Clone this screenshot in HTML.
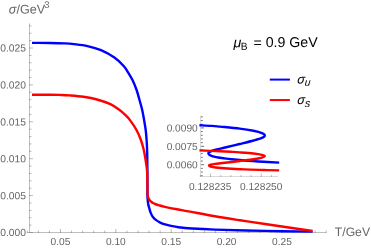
<!DOCTYPE html>
<html><head><meta charset="utf-8"><title>plot</title>
<style>html,body{margin:0;padding:0;background:#fff;}svg{display:block;will-change:transform;}</style></head>
<body><svg width="371" height="248" viewBox="0 0 371 248">
<rect width="371" height="248" fill="#fff"/>
<g stroke="#666" stroke-opacity="0.42" stroke-width="1" fill="none">
<path d="M29.5 23.5V232.5"/>
<path d="M27 232.5H326.4"/>
<path d="M27.29 233.0v-2.5M38.36 233.0v-2.5M49.43 233.0v-2.5M60.50 233.0v-4.0M71.57 233.0v-2.5M82.64 233.0v-2.5M93.71 233.0v-2.5M104.78 233.0v-2.5M115.85 233.0v-4.0M126.92 233.0v-2.5M137.99 233.0v-2.5M149.06 233.0v-2.5M160.13 233.0v-2.5M171.20 233.0v-4.0M182.27 233.0v-2.5M193.34 233.0v-2.5M204.41 233.0v-2.5M215.48 233.0v-2.5M226.55 233.0v-4.0M237.62 233.0v-2.5M248.69 233.0v-2.5M259.76 233.0v-2.5M270.83 233.0v-2.5M281.90 233.0v-4.0M292.97 233.0v-2.5M304.04 233.0v-2.5M315.11 233.0v-2.5M326.18 233.0v-2.5" stroke-opacity="0.45"/>
<path d="M29.0 232.50h4.0M29.0 225.12h2.5M29.0 217.74h2.5M29.0 210.36h2.5M29.0 202.98h2.5M29.0 195.60h4.0M29.0 188.22h2.5M29.0 180.84h2.5M29.0 173.46h2.5M29.0 166.08h2.5M29.0 158.70h4.0M29.0 151.32h2.5M29.0 143.94h2.5M29.0 136.56h2.5M29.0 129.18h2.5M29.0 121.80h4.0M29.0 114.42h2.5M29.0 107.04h2.5M29.0 99.66h2.5M29.0 92.28h2.5M29.0 84.90h4.0M29.0 77.52h2.5M29.0 70.14h2.5M29.0 62.76h2.5M29.0 55.38h2.5M29.0 48.00h4.0M29.0 40.62h2.5M29.0 33.24h2.5M29.0 25.86h2.5" stroke-opacity="0.45"/>
<path d="M200.5 115.5V176.5H278" stroke-opacity="0.24"/>
<path d="M200.40 177.0v-2.1M210.55 177.0v-3.6M220.70 177.0v-2.1M230.85 177.0v-2.1M241.00 177.0v-2.1M251.15 177.0v-2.1M261.30 177.0v-3.6M271.45 177.0v-2.1" stroke-opacity="0.4"/>
<path d="M200.9 116.86h1.9M200.9 120.54h1.9M200.9 124.22h1.9M200.9 127.90h3.2M200.9 131.58h1.9M200.9 135.26h1.9M200.9 138.94h1.9M200.9 142.62h1.9M200.9 146.30h3.2M200.9 149.98h1.9M200.9 153.66h1.9M200.9 157.34h1.9M200.9 161.02h1.9M200.9 164.70h3.2M200.9 168.38h1.9M200.9 172.06h1.9M200.9 175.74h1.9" stroke-opacity="0.9"/>
</g>
<path d="M32.00 42.90 C35.00 42.91 44.50 42.87 50.00 42.95 C55.50 43.03 61.00 43.20 65.00 43.40 C69.00 43.60 70.25 43.70 74.00 44.15 C77.75 44.60 83.00 45.09 87.50 46.10 C92.00 47.11 96.52 48.28 101.00 50.20 C105.48 52.12 110.58 54.92 114.40 57.60 C118.22 60.28 121.55 63.70 123.90 66.30 C126.25 68.90 127.07 70.92 128.50 73.20 C129.93 75.48 131.15 77.20 132.50 80.00 C133.85 82.80 135.43 86.67 136.60 90.00 C137.77 93.33 138.57 96.67 139.50 100.00 C140.43 103.33 141.43 106.67 142.20 110.00 C142.97 113.33 143.52 116.67 144.10 120.00 C144.68 123.33 145.28 126.67 145.70 130.00 C146.12 133.33 146.37 136.67 146.60 140.00 C146.83 143.33 146.98 146.67 147.10 150.00 C147.22 153.33 147.25 155.83 147.30 160.00 C147.35 164.17 147.38 170.00 147.40 175.00 C147.43 180.00 147.42 186.17 147.45 190.00 C147.47 193.83 147.43 195.72 147.55 198.00 C147.67 200.28 147.88 202.03 148.15 203.70 C148.43 205.37 148.77 206.47 149.20 208.00 C149.62 209.53 150.08 211.37 150.70 212.85 C151.32 214.33 151.98 215.69 152.90 216.90 C153.82 218.11 154.98 219.16 156.20 220.10 C157.42 221.04 158.73 221.83 160.20 222.55 C161.67 223.27 163.38 223.89 165.00 224.40 C166.62 224.91 167.65 225.13 169.90 225.60 C172.15 226.07 174.82 226.72 178.50 227.20 C182.18 227.68 185.92 228.10 192.00 228.50 C198.08 228.90 202.83 229.20 215.00 229.60 C227.17 230.00 248.73 230.57 265.00 230.90 C281.27 231.23 304.67 231.48 312.60 231.60" stroke="#00f" stroke-width="2.4" fill="none" stroke-linejoin="round"/>
<path d="M32.00 94.70 C35.00 94.71 45.33 94.72 50.00 94.75 C54.67 94.78 56.67 94.79 60.00 94.90 C63.33 95.01 66.08 95.08 70.00 95.40 C73.92 95.72 79.00 96.12 83.50 96.80 C88.00 97.48 92.52 98.27 97.00 99.50 C101.48 100.73 106.58 102.42 110.40 104.20 C114.22 105.98 117.47 108.47 119.90 110.20 C122.33 111.93 123.32 112.95 125.00 114.60 C126.68 116.25 128.08 117.53 130.00 120.10 C131.92 122.67 134.68 126.68 136.50 130.00 C138.32 133.32 139.68 136.67 140.90 140.00 C142.12 143.33 143.02 146.67 143.80 150.00 C144.58 153.33 145.07 156.67 145.60 160.00 C146.13 163.33 146.71 166.67 147.00 170.00 C147.29 173.33 147.27 176.67 147.35 180.00 C147.43 183.33 147.46 187.63 147.50 190.00 C147.54 192.37 147.53 193.07 147.60 194.20 C147.67 195.33 147.77 196.07 147.95 196.80 C148.13 197.53 148.39 198.00 148.70 198.60 C149.01 199.20 149.38 199.87 149.80 200.40 C150.22 200.93 150.67 201.37 151.20 201.80 C151.73 202.23 152.33 202.63 153.00 203.00 C153.67 203.37 154.16 203.62 155.20 204.00 C156.24 204.38 157.62 204.83 159.25 205.30 C160.88 205.77 162.04 206.14 165.00 206.80 C167.96 207.46 172.83 208.45 177.00 209.25 C181.17 210.05 183.67 210.43 190.00 211.60 C196.33 212.77 206.67 214.81 215.00 216.25 C223.33 217.69 231.67 218.96 240.00 220.25 C248.33 221.54 252.90 222.22 265.00 224.00 C277.10 225.78 304.67 229.79 312.60 230.95" stroke="#f00" stroke-width="2.4" fill="none" stroke-linejoin="round"/>
<path d="M199.40 125.25 C201.50 125.36 208.52 125.67 212.00 125.90 C215.48 126.13 215.68 126.20 220.30 126.65 C224.92 127.10 234.18 127.91 239.70 128.60 C245.22 129.29 249.70 130.05 253.40 130.80 C257.10 131.55 260.00 132.33 261.90 133.10 C263.80 133.87 264.80 134.60 264.80 135.40 C264.80 136.20 263.77 137.05 261.90 137.90 C260.03 138.75 257.30 139.48 253.60 140.50 C249.90 141.52 244.45 142.83 239.70 144.00 C234.95 145.17 229.25 146.52 225.10 147.50 C220.95 148.48 217.27 149.22 214.80 149.90 C212.33 150.58 211.38 151.05 210.30 151.60 C209.22 152.15 208.47 152.68 208.30 153.20 C208.13 153.72 208.77 154.27 209.30 154.70 C209.83 155.13 210.70 155.48 211.50 155.80 C212.30 156.12 212.98 156.37 214.10 156.65 C215.22 156.93 216.18 157.17 218.20 157.50 C220.22 157.83 223.90 158.35 226.20 158.65 C228.50 158.95 228.95 158.99 232.00 159.30 C235.05 159.61 239.18 160.08 244.50 160.50 C249.82 160.92 258.12 161.45 263.90 161.80 C269.68 162.15 276.65 162.47 279.20 162.60" stroke="#00f" stroke-width="2.4" fill="none" stroke-linejoin="round"/>
<path d="M199.40 150.40 C202.88 150.54 214.87 151.01 220.30 151.25 C225.73 151.49 228.77 151.67 232.00 151.85 C235.23 152.03 236.13 152.07 239.70 152.35 C243.27 152.62 249.70 153.09 253.40 153.50 C257.10 153.91 260.00 154.37 261.90 154.80 C263.80 155.23 264.80 155.63 264.80 156.10 C264.80 156.57 263.77 157.07 261.90 157.60 C260.03 158.13 257.30 158.73 253.60 159.30 C249.90 159.87 244.45 160.42 239.70 161.00 C234.95 161.58 229.22 162.33 225.10 162.80 C220.98 163.28 217.42 163.56 215.00 163.85 C212.58 164.14 211.60 164.29 210.60 164.55 C209.60 164.81 209.00 165.08 209.00 165.40 C209.00 165.72 209.50 166.15 210.60 166.50 C211.70 166.85 212.78 167.17 215.60 167.50 C218.42 167.83 222.68 168.18 227.50 168.50 C232.32 168.82 238.43 169.15 244.50 169.40 C250.57 169.65 258.12 169.83 263.90 170.00 C269.68 170.17 276.65 170.33 279.20 170.40" stroke="#f00" stroke-width="2.4" fill="none" stroke-linejoin="round"/>
<path d="M269.8 79.6H289.9" stroke="#00f" stroke-width="2"/>
<path d="M269.8 100.05H289.9" stroke="#f00" stroke-width="2"/>
<g font-family="Liberation Sans, sans-serif">
<text transform="translate(26.00,236.10) rotate(0.03)" font-size="10.3" text-anchor="end" fill="#666">0.000</text>
<text transform="translate(26.00,199.20) rotate(0.03)" font-size="10.3" text-anchor="end" fill="#666">0.005</text>
<text transform="translate(26.00,162.30) rotate(0.03)" font-size="10.3" text-anchor="end" fill="#666">0.010</text>
<text transform="translate(26.00,125.40) rotate(0.03)" font-size="10.3" text-anchor="end" fill="#666">0.015</text>
<text transform="translate(26.00,88.50) rotate(0.03)" font-size="10.3" text-anchor="end" fill="#666">0.020</text>
<text transform="translate(26.00,51.60) rotate(0.03)" font-size="10.3" text-anchor="end" fill="#666">0.025</text>
<text transform="translate(60.50,245.00) rotate(0.03)" font-size="10.2" text-anchor="middle" fill="#666">0.05</text>
<text transform="translate(115.85,245.00) rotate(0.03)" font-size="10.2" text-anchor="middle" fill="#666">0.10</text>
<text transform="translate(171.20,245.00) rotate(0.03)" font-size="10.2" text-anchor="middle" fill="#666">0.15</text>
<text transform="translate(226.55,245.00) rotate(0.03)" font-size="10.2" text-anchor="middle" fill="#666">0.20</text>
<text transform="translate(281.90,245.00) rotate(0.03)" font-size="10.2" text-anchor="middle" fill="#666">0.25</text>
<text transform="translate(197.80,131.50) rotate(0.03)" font-size="10.2" text-anchor="end" fill="#666">0.0090</text>
<text transform="translate(197.80,149.90) rotate(0.03)" font-size="10.2" text-anchor="end" fill="#666">0.0075</text>
<text transform="translate(197.80,168.30) rotate(0.03)" font-size="10.2" text-anchor="end" fill="#666">0.0060</text>
<text transform="translate(210.20,190.00) rotate(0.03)" font-size="10.2" text-anchor="middle" fill="#666">0.128235</text>
<text transform="translate(261.20,190.00) rotate(0.03)" font-size="10.2" text-anchor="middle" fill="#666">0.128250</text>
<text transform="translate(8.80,13.60) rotate(0.03)" font-size="12.6" fill="#666"><tspan font-style="italic">σ</tspan>/GeV</text>
<text transform="translate(44.20,8.00) rotate(0.03)" font-size="9.5" fill="#666">3</text>
<text transform="translate(334.80,236.10) rotate(0.03)" font-size="12.2" fill="#666">T/GeV</text>
<text transform="translate(233.50,47.20) rotate(0.03)" font-size="14.2" font-style="italic" fill="#000">μ</text>
<text transform="translate(240.80,49.70) rotate(0.03)" font-size="10.2" fill="#000">B</text>
<text transform="translate(253.40,47.50) rotate(0.03)" font-size="14.2" fill="#000">=</text>
<text transform="translate(265.65,47.10) rotate(0.03)" font-size="14.2" fill="#000">0.9 GeV</text>
<text transform="translate(297.00,83.40) rotate(0.03) skewX(-5)" font-size="12.6" font-style="italic" fill="#000">σ</text>
<text transform="translate(304.50,85.70) rotate(0.03) skewX(-5)" font-size="10.4" font-style="italic" fill="#000">u</text>
<text transform="translate(297.00,103.90) rotate(0.03) skewX(-5)" font-size="12.6" font-style="italic" fill="#000">σ</text>
<text transform="translate(304.50,106.90) rotate(0.03) skewX(-5)" font-size="11.2" font-style="italic" fill="#000">s</text>
</g>
</svg></body></html>
